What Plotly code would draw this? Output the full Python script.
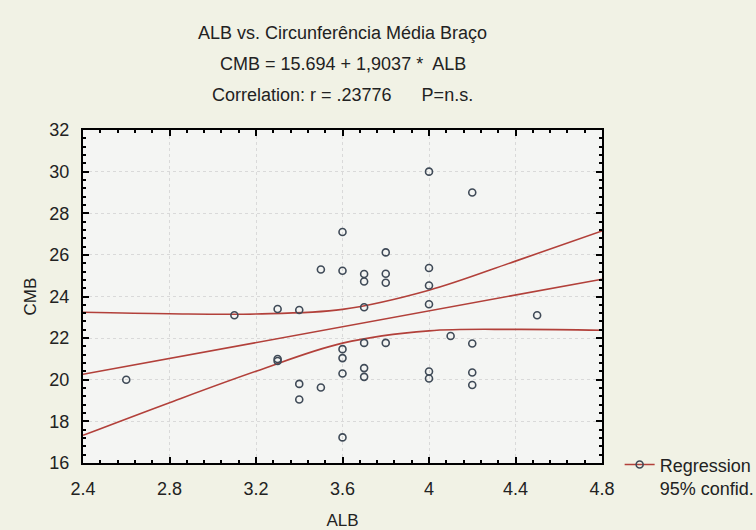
import numpy as np
import plotly.graph_objects as go

# ---- data ----
alb = [2.6, 3.1,
       3.3, 3.3, 3.3,
       3.4, 3.4, 3.4,
       3.5, 3.5,
       3.6, 3.6, 3.6, 3.6, 3.6, 3.6,
       3.7, 3.7, 3.7, 3.7, 3.7, 3.7,
       3.8, 3.8, 3.8, 3.8,
       4.0, 4.0, 4.0, 4.0, 4.0, 4.0,
       4.1,
       4.2, 4.2, 4.2, 4.2,
       4.5]
cmb = [20.0, 23.1,
       23.4, 21.0, 20.9,
       23.35, 19.8, 19.05,
       25.3, 19.63,
       27.1, 25.24, 21.47, 21.04, 20.3, 17.23,
       25.08, 24.72, 23.48, 21.77, 20.56, 20.14,
       26.12, 25.09, 24.66, 21.77,
       30.0, 25.37, 24.53, 23.63, 20.4, 20.06,
       22.1,
       29.0, 21.74, 20.35, 19.75,
       23.1]

intercept = 15.694
slope = 1.9037

band_x = [2.4, 2.8, 3.2, 3.6, 4.0, 4.4, 4.8]
band_upper = [23.24, 23.17, 23.16, 23.38, 24.3, 25.7, 27.15]
band_lower = [17.33, 18.9, 20.41, 21.76, 22.35, 22.42, 22.38]

x_ticks = [2.4, 2.8, 3.2, 3.6, 4.0, 4.4, 4.8]
y_ticks = [16, 18, 20, 22, 24, 26, 28, 30, 32]

title_lines = ["ALB vs. Circunferência Média Braço",
               "CMB = 15.694 + 1,9037 *\u00a0 ALB",
               "Correlation: r = .23776\u00a0\u00a0\u00a0\u00a0\u00a0 P=n.s."]

# ---- styling ----
RED = "#b2403a"
PT = "#3f4a57"
TXT = "#222222"
FONT = "Liberation Sans, Arial, sans-serif"

reg_x = np.array([x_ticks[0], x_ticks[-1]])
reg_y = intercept + slope * reg_x

fig = go.Figure()
fig.add_trace(go.Scatter(x=band_x, y=band_upper, mode="lines",
                         line=dict(color=RED, width=1.6, shape="spline"),
                         showlegend=False, hoverinfo="skip"))
fig.add_trace(go.Scatter(x=band_x, y=band_lower, mode="lines",
                         line=dict(color=RED, width=1.6, shape="spline"),
                         showlegend=False, hoverinfo="skip"))
fig.add_trace(go.Scatter(x=reg_x, y=reg_y, mode="lines",
                         line=dict(color=RED, width=1.6),
                         showlegend=False))
fig.add_trace(go.Scatter(x=alb, y=cmb, mode="markers",
                         marker=dict(symbol="circle-open", size=7, color=PT,
                                     line=dict(width=1.6, color=PT)),
                         showlegend=False))
# legend entry only (no data)
fig.add_trace(go.Scatter(x=[None], y=[None], mode="lines+markers",
                         name="Regression<br>95% confid.",
                         line=dict(color=RED, width=1.6),
                         marker=dict(symbol="circle-open", size=7, color=PT,
                                     line=dict(width=1.6, color=PT))))

axis_common = dict(
    showline=True, linecolor="black", linewidth=2, mirror="allticks",
    ticks="inside", ticklen=6, tickwidth=1.5, tickcolor="black",
    showgrid=True, gridcolor="#d9d9d9", griddash="dot", gridwidth=1,
    zeroline=False, automargin=False,
    tickfont=dict(size=18, color=TXT, family=FONT),
    ticklabelstandoff=8,
)

fig.update_xaxes(range=[x_ticks[0], x_ticks[-1]], tickvals=x_ticks,
                 minor=dict(dtick=0.08, ticks="inside", ticklen=3,
                            tickcolor="black", showgrid=False),
                 title=dict(text="ALB", font=dict(size=17, color=TXT, family=FONT),
                            standoff=22),
                 **axis_common)
fig.update_yaxes(range=[y_ticks[0], y_ticks[-1]], tickvals=y_ticks,
                 minor=dict(dtick=0.4, ticks="inside", ticklen=3,
                            tickcolor="black", showgrid=False),
                 title=dict(text="CMB", font=dict(size=17, color=TXT, family=FONT),
                            standoff=8),
                 **axis_common)

title_y = [1.291, 1.198, 1.105]
for txt, yy in zip(title_lines, title_y):
    fig.add_annotation(text=txt, x=0.5, y=yy, xref="paper", yref="paper",
                       xanchor="center", yanchor="middle", showarrow=False,
                       font=dict(size=18, color=TXT, family=FONT))

fig.update_layout(
    width=756, height=530,
    margin=dict(l=83, r=154, t=130, b=67, autoexpand=False),
    paper_bgcolor="#f1f2e5",
    plot_bgcolor="#f4f5f3",
    font=dict(family=FONT, color=TXT, size=18),
    showlegend=True,
    legend=dict(x=1.034, y=0.05, xanchor="left", yanchor="top",
                valign="top", bgcolor="rgba(0,0,0,0)",
                font=dict(size=18, color=TXT, family=FONT),
                itemwidth=30, tracegroupgap=0),
)

fig.write_html("out.html")
